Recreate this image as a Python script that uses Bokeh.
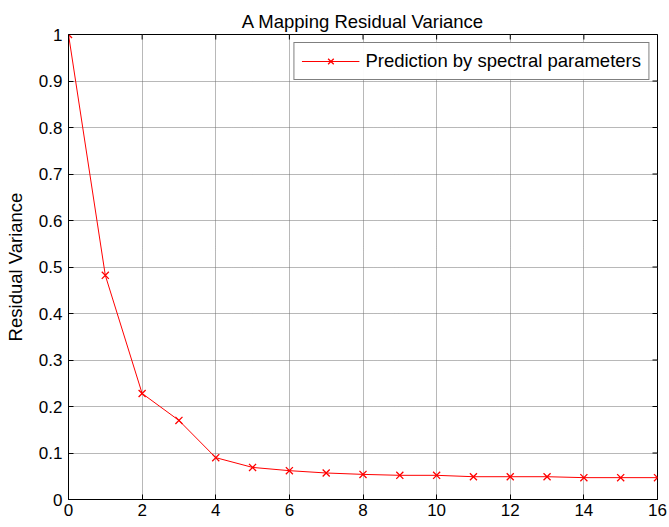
import math
from bokeh.plotting import figure
from bokeh.models import Range1d, FixedTicker, Legend, LegendItem
from bokeh.embed import file_html
from bokeh.resources import INLINE

x_vals = [0, 1, 2, 3, 4, 5, 6, 7, 8, 9, 10, 11, 12, 13, 14, 15, 16]
residual = [1.0, 0.482, 0.228, 0.170, 0.090, 0.069, 0.062, 0.057, 0.054, 0.052,
            0.052, 0.049, 0.049, 0.049, 0.047, 0.047, 0.047]
x_ticks = [0, 2, 4, 6, 8, 10, 12, 14, 16]
y_ticks = [0, 0.1, 0.2, 0.3, 0.4, 0.5, 0.6, 0.7, 0.8, 0.9, 1.0]
y_labels = {0: "0", 0.1: "0.1", 0.2: "0.2", 0.3: "0.3", 0.4: "0.4", 0.5: "0.5",
            0.6: "0.6", 0.7: "0.7", 0.8: "0.8", 0.9: "0.9", 1.0: "1"}

FONT = "Liberation Sans"
X_MIN, X_MAX = 0, 16
Y_MIN, Y_MAX = 0, 1

p = figure(width=669, height=527, output_backend="svg", toolbar_location=None,
           x_range=Range1d(X_MIN, X_MAX), y_range=Range1d(Y_MIN, Y_MAX),
           min_border_left=68, min_border_right=12, min_border_top=34, min_border_bottom=28,
           title="A Mapping Residual Variance")
p.title.align = "center"
p.title.text_font = FONT
p.title.text_font_size = "18.5px"
p.title.text_font_style = "normal"
p.title.text_color = "#000000"
p.title.offset = 0
p.title.standoff = 6

p.outline_line_color = "black"
p.outline_line_width = 1
p.background_fill_color = "white"
p.border_fill_color = "white"

def style_axis(ax):
    ax.axis_line_color = "black"
    ax.axis_line_width = 1
    ax.major_tick_in = 5
    ax.major_tick_out = 0
    ax.minor_tick_in = 0
    ax.minor_tick_out = 0
    ax.major_tick_line_color = "black"
    ax.major_label_text_font = FONT
    ax.major_label_text_font_size = "17px"
    ax.major_label_text_color = "black"
    ax.axis_label_text_font = FONT
    ax.axis_label_text_font_size = "18.5px"
    ax.axis_label_text_font_style = "normal"
    ax.axis_label_text_color = "black"

xa = p.xaxis[0]
xa.ticker = FixedTicker(ticks=x_ticks)
style_axis(xa)
xa.major_label_standoff = 4

ya = p.yaxis[0]
ya.ticker = FixedTicker(ticks=y_ticks)
ya.major_label_overrides = y_labels
ya.axis_label = "Residual Variance"
style_axis(ya)
ya.major_label_standoff = 6
ya.axis_label_standoff = 10

for g in (p.xgrid[0], p.ygrid[0]):
    g.grid_line_color = "#707070"
    g.grid_line_dash = "1 1"
    g.grid_line_width = 1
p.xgrid[0].ticker = FixedTicker(ticks=x_ticks)
p.ygrid[0].ticker = FixedTicker(ticks=y_ticks)

# inward ticks on top and right edges of the box (half clipped by the frame)
p.scatter(x_ticks, [Y_MAX] * len(x_ticks), marker="dash", size=10, angle=math.pi / 2,
          line_color="black", line_width=1)
p.scatter([X_MAX] * len(y_ticks), y_ticks, marker="dash", size=10,
          line_color="black", line_width=1)

ln = p.line(x_vals, residual, line_color="red", line_width=1)
mk = p.scatter(x_vals, residual, marker="x", size=10, line_color="red", line_width=1.3)

legend = Legend(items=[LegendItem(label="Prediction by spectral parameters", renderers=[ln, mk])],
                location="top_right")
legend.label_text_font = FONT
legend.label_text_font_size = "18.5px"
legend.label_text_color = "black"
legend.border_line_color = "black"
legend.border_line_width = 1
legend.margin = 8
legend.padding = 7
legend.glyph_width = 58
legend.label_standoff = 6
legend.spacing = 0
p.add_layout(legend, "center")

open("out.html", "w").write(file_html(p, INLINE))
